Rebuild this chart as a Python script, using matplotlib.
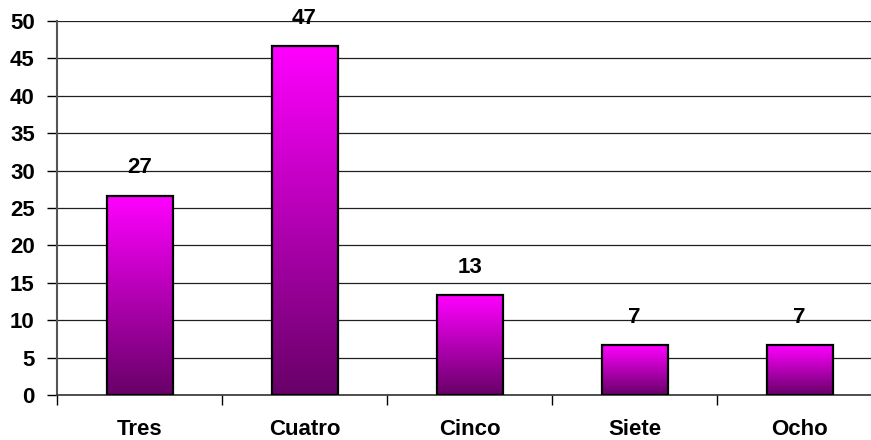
import numpy as np
import matplotlib.pyplot as plt
from matplotlib.colors import LinearSegmentedColormap

# bar chart data
categorias = ['Tres', 'Cuatro', 'Cinco', 'Siete', 'Ocho']
valores = [26.67, 46.67, 13.33, 6.67, 6.67]

plt.rcParams['font.family'] = ['Liberation Sans', 'DejaVu Sans']
plt.rcParams['font.weight'] = 'bold'

fig = plt.figure(figsize=(8.71, 4.40), dpi=100)
# plot area runs a bit past the right edge of the image
ax = fig.add_axes([57 / 871, 45 / 440, 825 / 871, 374 / 440])

cmap = LinearSegmentedColormap.from_list('magenta', ['#680068', '#FF00FF'])
grad = np.linspace(0, 1, 256).reshape(-1, 1)

x = np.arange(len(categorias))
width = 0.4
bars = ax.bar(x, valores, width=width, facecolor='none', edgecolor='black',
              linewidth=1.6, zorder=3)

for b, v in zip(bars, valores):
    x0 = b.get_x()
    im = ax.imshow(grad, cmap=cmap, origin='lower', aspect='auto',
                   extent=[x0, x0 + b.get_width(), 0, b.get_height()], zorder=2)
    im.set_clip_path(b)
    ax.text(b.get_x() + b.get_width() / 2, v + 3.7, f'{v:.0f}',
            ha='center', va='center', fontsize=16, fontweight='bold')

ax.set_xlim(-0.5, len(categorias) - 0.5)
ax.set_ylim(0, 50)
ax.set_yticks(range(0, 51, 5))
ax.yaxis.grid(True, color='#202020', linewidth=0.9, zorder=0)
ax.set_axisbelow(True)

ax.set_xticks(x)
ax.set_xticklabels(categorias, fontsize=16, fontweight='bold')
ax.tick_params(axis='x', length=0, pad=17)
ax.set_xticks(np.arange(-0.5, len(categorias) + 0.5, 1), minor=True)
ax.tick_params(axis='x', which='minor', length=7, width=1, color='black')
ax.tick_params(axis='y', length=7, width=1, labelsize=16, pad=9)
for lbl in ax.get_yticklabels():
    lbl.set_fontweight('bold')

for s in ['top', 'right']:
    ax.spines[s].set_visible(False)
ax.spines['left'].set_color('#555555')
ax.spines['left'].set_linewidth(1.5)
ax.spines['bottom'].set_color('#333333')
ax.spines['bottom'].set_linewidth(1.2)

fig.savefig('out.png', dpi=100)
